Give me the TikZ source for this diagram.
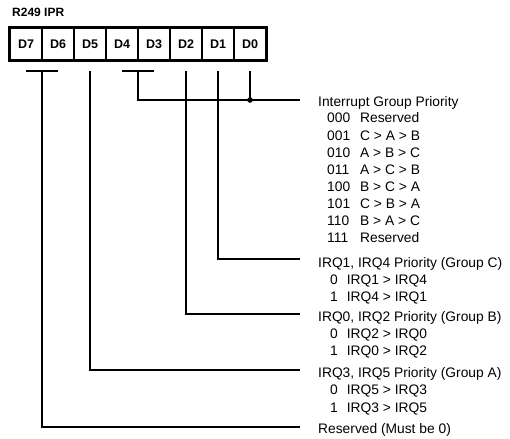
\documentclass[tikz,border=0pt]{standalone}
\usepackage{fontspec}
\setmainfont{Liberation Sans}
\usetikzlibrary{calc}
\begin{document}
\begin{tikzpicture}[x=1pt,y=-1pt,
  conn/.style={line width=2.3pt},
  txt/.style={anchor=base west, inner sep=0pt, font=\fontsize{13.8}{15}\selectfont},
  cell/.style={draw, line width=2pt, minimum width=32pt, minimum height=32pt, inner sep=0pt, font=\bfseries\fontsize{12.5}{14}\selectfont}]
\useasboundingbox (0,0) rectangle (510,438);
% title
\node[anchor=base west, inner sep=0pt, font=\bfseries\fontsize{12}{14}\selectfont] (title) at (12,17) {R249 IPR};
% register cells
\foreach \n [count=\i from 0] in {D7,D6,D5,D4,D3,D2,D1,D0} {
  \node[cell] (c\i) at ({26+32*\i},44) {\n};
}
\draw[line width=2.8pt] (c0.north west) rectangle (c7.south east);
% tap points below cells
\foreach \i in {0,...,7} { \path (c\i.south) ++(0,10) coordinate (p\i); }
% line end points
\coordinate (eG) at (300,100);
\coordinate (eC) at (300,259);
\coordinate (eB) at (300,314);
\coordinate (eA) at (300,370);
\coordinate (eR) at (300,427);
% connectors
\draw[conn] (p0) -- (p1);
\draw[conn] ($(p0)!0.5!(p1)$) |- (eR);
\draw[conn] (p2) |- (eA);
\draw[conn] (p3) -- (p4);
\draw[conn] ($(p3)!0.5!(p4)$) |- (eG);
\draw[conn] (p5) |- (eB);
\draw[conn] (p6) |- (eC);
\draw[conn] (p7) -- (p7 |- eG) coordinate (jn);
\fill (jn) circle (2.8pt);
% texts
\node[txt] (tG) at (318,107) {Interrupt Group Priority};
\foreach \c/\d [count=\k from 0] in {000/Reserved,001/C > A > B,010/A > B > C,011/A > C > B,100/B > C > A,101/C > B > A,110/B > A > C,111/Reserved} {
  \node[txt] (code\k) at (327,{123+17.1*\k}) {\c};
  \node[txt] (desc\k) at (360,{123+17.1*\k}) {\d};
}
\node[txt] (tC) at (318,267) {IRQ1, IRQ4 Priority (Group C)};
\node[txt] (tC0) at (330,284) {0\hspace{9pt}IRQ1 > IRQ4};
\node[txt] (tC1) at (330,301) {1\hspace{9pt}IRQ4 > IRQ1};
\node[txt] (tB) at (318,321) {IRQ0, IRQ2 Priority (Group B)};
\node[txt] (tB0) at (330,338) {0\hspace{9pt}IRQ2 > IRQ0};
\node[txt] (tB1) at (330,355) {1\hspace{9pt}IRQ0 > IRQ2};
\node[txt] (tA) at (318,377) {IRQ3, IRQ5 Priority (Group A)};
\node[txt] (tA0) at (330,394) {0\hspace{9pt}IRQ5 > IRQ3};
\node[txt] (tA1) at (330,412) {1\hspace{9pt}IRQ3 > IRQ5};
\node[txt] (tR) at (318,433) {Reserved (Must be 0)};
\end{tikzpicture}
\end{document}
